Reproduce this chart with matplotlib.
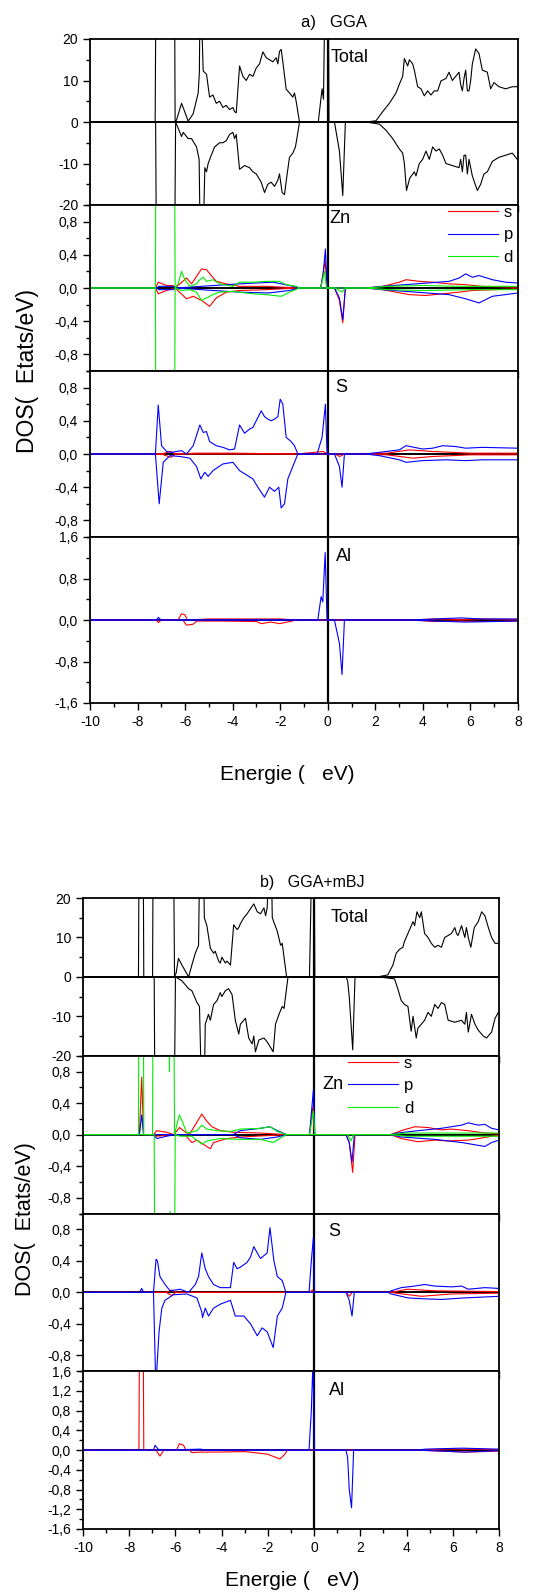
import matplotlib
matplotlib.use("Agg")
import matplotlib.pyplot as plt
from matplotlib.ticker import MultipleLocator, FuncFormatter

plt.rcParams['font.family'] = ['Liberation Sans', 'DejaVu Sans']
plt.rcParams['axes.unicode_minus'] = False

# ---------------- a) GGA ----------------
# total DOS, (energy eV, states/eV); values beyond the axes are clipped spikes
tot_a_up = [(-10, 0), (-7.26, 0), (-7.22, 40), (-6.45, 40), (-6.42, 0), (-6.36, 0.5), (-6.15, 4.5), (-6.05, 3),
            (-5.87, 0.2), (-5.66, 2), (-5.45, 7), (-5.40, 12), (-5.36, 40), (-5.28, 20), (-5.24, 12.3), (-5.10, 11.5),
            (-4.97, 6), (-4.83, 6.5), (-4.69, 4.5), (-4.55, 5), (-4.41, 3.5), (-4.27, 4), (-4.13, 3), (-3.99, 3.5),
            (-3.92, 2.5), (-3.85, 2.2), (-3.71, 13.5), (-3.57, 11), (-3.43, 10), (-3.29, 11.5), (-3.15, 11),
            (-3.01, 13), (-2.87, 14), (-2.73, 16.9), (-2.59, 15.5), (-2.45, 15), (-2.31, 14.5), (-2.17, 15.5),
            (-2.10, 14), (-2.03, 17), (-1.96, 17.5), (-1.89, 14.5), (-1.75, 7.9), (-1.61, 7), (-1.47, 6), (-1.40, 7),
            (-1.33, 5), (-1.19, 0), (-0.40, 0), (-0.24, 8), (-0.18, 5.5), (-0.10, 40), (0.02, 40), (0.05, 0),
            (1.61, 0), (2.03, 0.3), (2.31, 2.5), (2.59, 4.5), (2.87, 7), (3.01, 9.1), (3.15, 11), (3.22, 15.3),
            (3.36, 13.5), (3.43, 15), (3.57, 14), (3.64, 12.5), (3.78, 8.5), (3.92, 8), (4.06, 6.3), (4.20, 7.5),
            (4.34, 6.5), (4.48, 7.5), (4.62, 7.5), (4.76, 9.9), (4.97, 10.5), (5.10, 12), (5.24, 10), (5.38, 11),
            (5.52, 12), (5.59, 9), (5.66, 7.5), (5.73, 10.5), (5.80, 12.5), (5.87, 7.5), (5.94, 7.5), (6.01, 10),
            (6.08, 14), (6.22, 17.6), (6.36, 16.5), (6.50, 12.5), (6.71, 12), (6.85, 8), (6.99, 9.5), (7.20, 8.5),
            (7.48, 8), (7.76, 8.5), (8, 8.5)]
tot_a_dn = [(-10, 0), (-7.24, 0), (-7.20, -40), (-6.45, -40), (-6.40, 0), (-6.15, -3.5), (-6.08, -2.5), (-5.87, -4),
            (-5.73, -4), (-5.52, -6), (-5.41, -9), (-5.34, -40), (-5.29, -40), (-5.17, -11), (-5.10, -12),
            (-5.03, -10), (-4.90, -8), (-4.76, -6), (-4.55, -5), (-4.41, -5), (-4.27, -4.5), (-4.13, -3),
            (-3.99, -2.5), (-3.92, -4), (-3.85, -3), (-3.71, -11.4), (-3.50, -10.5), (-3.29, -11), (-3.15, -12),
            (-3.01, -12.5), (-2.80, -14.5), (-2.66, -17), (-2.52, -15), (-2.38, -14.5), (-2.24, -15.5), (-2.10, -14),
            (-2.03, -12.5), (-1.92, -17), (-1.82, -17.5), (-1.72, -13), (-1.61, -8.5), (-1.47, -7.5), (-1.36, -6),
            (-1.30, -4), (-1.19, 0), (0.28, 0), (0.49, -7), (0.63, -17.7), (0.74, 0), (1.6, 0), (2.17, -0.5),
            (2.45, -2), (2.73, -4), (3.01, -6.5), (3.15, -7.5), (3.22, -10), (3.31, -16.5), (3.45, -13.5), (3.64, -12),
            (3.71, -13), (3.85, -10), (3.99, -9), (4.13, -7), (4.27, -9), (4.41, -6), (4.55, -7), (4.69, -6.5),
            (4.83, -8), (4.97, -10), (5.24, -10.5), (5.52, -11), (5.59, -9), (5.66, -12), (5.73, -8), (5.80, -8),
            (5.87, -12.5), (5.94, -9), (6.08, -13), (6.29, -16.5), (6.43, -15), (6.57, -12.5), (6.71, -12),
            (6.92, -9.5), (7.06, -9), (7.20, -8.5), (7.48, -8), (7.76, -7.5), (7.97, -9), (8, -9)]

zn_a_s_up = [(-10, 0), (-7.25, 0), (-7.13, 0.07), (-6.78, 0.03), (-6.50, 0.03), (-6.42, 0), (-5.94, 0.12),
             (-5.73, 0.05), (-5.31, 0.23), (-5.10, 0.22), (-4.90, 0.15), (-4.69, 0.08), (-4.27, 0.05), (-3.71, 0.02),
             (-2.59, 0.02), (-1.19, 0), (-0.3, 0), (-0.11, 0.33), (-0.03, 0), (1.6, 0), (2.31, 0.02), (3.01, 0.07),
             (3.29, 0.1), (3.85, 0.08), (4.41, 0.07), (5.10, 0.05), (5.80, 0.04), (6.50, 0.02), (8, 0.01)]
zn_a_s_dn = [(-10, 0), (-7.25, 0), (-7.13, -0.07), (-6.78, -0.03), (-6.42, 0), (-5.94, -0.13), (-5.66, -0.1),
             (-5.31, -0.15), (-4.97, -0.22), (-4.69, -0.12), (-4.27, -0.05), (-3.71, -0.03), (-2.59, -0.02),
             (-1.19, 0), (0.28, 0), (0.49, -0.15), (0.63, -0.42), (0.74, 0), (1.6, 0), (2.31, -0.02), (3.43, -0.08),
             (4.13, -0.09), (4.83, -0.07), (5.52, -0.05), (6.08, -0.03), (8, -0.01)]
zn_a_p_up = [(-10, 0), (-7.2, 0), (-7.1, 0.02), (-6.5, 0.02), (-6.4, 0), (-3.71, 0.05), (-3.0, 0.06), (-2.3, 0.07),
             (-1.61, 0.03), (-1.19, 0), (-0.3, 0), (-0.2, 0.15), (-0.10, 0.47), (-0.03, 0), (1.6, 0), (2.31, 0.02),
             (3.71, 0.05), (5.10, 0.08), (5.52, 0.12), (5.80, 0.17), (6.08, 0.13), (6.36, 0.15), (6.92, 0.1),
             (7.48, 0.07), (8, 0.06)]
zn_a_p_dn = [(-10, 0), (-7.2, 0), (-7.1, -0.02), (-6.5, -0.02), (-6.4, 0), (-3.71, -0.05), (-2.5, -0.06),
             (-1.61, -0.03), (-1.19, 0), (0.28, 0), (0.49, -0.12), (0.63, -0.38), (0.74, 0), (1.6, 0), (2.31, -0.02),
             (3.71, -0.05), (5.10, -0.08), (5.80, -0.13), (6.36, -0.18), (6.92, -0.1), (8, -0.06)]
zn_a_d_up = [(-10, 0), (-7.25, 0), (-7.22, 3), (-6.46, 3), (-6.42, 0), (-6.29, 0.05), (-6.15, 0.2), (-6.01, 0.1),
             (-5.80, 0.02), (-5.52, 0.05), (-5.38, 0.1), (-5.24, 0.13), (-5.10, 0.08), (-4.83, 0.1), (-4.55, 0.05),
             (-3.99, 0.02), (-3.71, 0.07), (-3.15, 0.07), (-2.59, 0.08), (-2.03, 0.08), (-1.75, 0.04), (-1.33, 0.02),
             (-1.19, 0), (-0.3, 0), (-0.14, 0.2), (-0.05, 0), (1.6, 0), (2.5, 0.02), (4, 0.03), (5.5, 0.02),
             (7, 0.02), (8, 0.02)]
zn_a_d_dn = [(-10, 0), (-7.25, 0), (-7.22, -3), (-6.46, -3), (-6.42, 0), (-6.15, -0.03), (-5.80, -0.02),
             (-5.52, -0.05), (-5.31, -0.15), (-5.10, -0.12), (-4.83, -0.08), (-4.55, -0.05), (-3.99, -0.04),
             (-3.15, -0.07), (-2.59, -0.08), (-1.96, -0.1), (-1.61, -0.05), (-1.19, 0), (0.3, 0), (0.6, -0.05),
             (0.74, 0), (1.6, 0), (2.5, -0.02), (4, -0.03), (6, -0.02), (8, -0.02)]

s_a_s_up = [(-10, 0), (-7.0, 0), (-6.6, 0.03), (-6.4, 0), (-5.5, 0.01), (-4, 0.01), (-1.3, 0), (-0.2, 0.03),
            (0, 0), (2.5, 0.01), (3.43, 0.05), (4.41, 0.03), (6, 0.01), (8, 0.01)]
s_a_s_dn = [(-10, 0), (-7.0, 0), (-6.6, -0.04), (-6.4, 0), (-1.3, 0), (0.3, 0), (0.5, -0.03), (0.7, 0),
            (2.5, -0.01), (3.57, -0.05), (4.41, -0.03), (6, -0.01), (8, -0.01)]
s_a_p_up = [(-10, 0), (-7.25, 0), (-7.13, 0.59), (-6.99, 0.1), (-6.78, 0.03), (-6.57, 0.02), (-6.15, 0.04),
            (-5.94, 0), (-5.66, 0.1), (-5.38, 0.35), (-5.24, 0.26), (-5.10, 0.27), (-4.97, 0.15), (-4.69, 0.1),
            (-4.41, 0.08), (-4.13, 0.05), (-3.92, 0.06), (-3.71, 0.35), (-3.50, 0.25), (-3.29, 0.3), (-3.15, 0.32),
            (-3.01, 0.4), (-2.80, 0.52), (-2.66, 0.45), (-2.52, 0.42), (-2.38, 0.4), (-2.24, 0.42), (-2.10, 0.45),
            (-2.00, 0.66), (-1.89, 0.6), (-1.75, 0.2), (-1.54, 0.15), (-1.40, 0.1), (-1.26, 0), (-0.45, 0),
            (-0.24, 0.2), (-0.10, 0.6), (-0.03, 0), (1.6, 0), (2.17, 0.02), (3.01, 0.05), (3.29, 0.1), (3.99, 0.06),
            (4.41, 0.07), (4.83, 0.1), (5.38, 0.09), (5.80, 0.07), (6.50, 0.08), (8, 0.07)]
s_a_p_dn = [(-10, 0), (-7.25, 0), (-7.09, -0.6), (-6.92, -0.1), (-6.64, -0.02), (-6.22, -0.03), (-5.80, -0.05),
            (-5.52, -0.15), (-5.34, -0.3), (-5.17, -0.22), (-5.03, -0.27), (-4.83, -0.2), (-4.41, -0.12),
            (-3.99, -0.1), (-3.71, -0.2), (-3.43, -0.25), (-3.15, -0.3), (-2.94, -0.4), (-2.66, -0.52),
            (-2.45, -0.4), (-2.24, -0.45), (-2.06, -0.4), (-1.96, -0.65), (-1.82, -0.6), (-1.68, -0.3),
            (-1.47, -0.15), (-1.26, 0), (0.28, 0), (0.49, -0.15), (0.60, -0.4), (0.70, 0), (1.6, 0), (2.17, -0.02),
            (3.01, -0.07), (3.29, -0.1), (3.99, -0.08), (4.97, -0.07), (5.80, -0.08), (6.50, -0.07), (8, -0.07)]

al_a_s_up = [(-10, 0), (-6.3, 0), (-6.15, 0.12), (-6.01, 0.1), (-5.9, 0), (-5.0, 0.02), (-4.0, 0.02),
             (-3, 0.02), (-2, 0.02), (-1.3, 0), (3.5, 0), (4.5, 0.02), (5.5, 0.01), (6.5, 0.02), (8, 0.01)]
al_a_s_dn = [(-10, 0), (-7.2, 0), (-7.13, -0.05), (-7.0, 0), (-6.1, 0), (-5.94, -0.1), (-5.66, -0.08),
             (-5.5, -0.02), (-4.5, -0.02), (-3, -0.03), (-2.8, -0.07), (-2.4, -0.04), (-2.03, -0.07), (-1.6, -0.03),
             (-1.3, 0), (3.5, 0), (4.5, -0.03), (5.5, -0.02), (6.5, -0.03), (8, -0.02)]
al_a_p_up = [(-10, 0), (-7.2, 0), (-7.13, 0.05), (-7.0, 0), (-0.42, 0), (-0.28, 0.45), (-0.21, 0.35),
             (-0.11, 1.3), (-0.03, 0), (3.5, 0), (4.5, 0.02), (5.6, 0.04), (6.5, 0.02), (8, 0.02)]
al_a_p_dn = [(-10, 0), (0.28, 0), (0.42, -0.3), (0.49, -0.45), (0.60, -1.05), (0.70, 0), (3.5, 0),
             (4.5, -0.02), (5.8, -0.04), (8, -0.02)]

# ---------------- b) GGA+mBJ ----------------
tot_b_up = [(-10, 0), (-7.60, 0), (-7.57, 40), (-7.40, 40), (-7.37, 0), (-6.99, 0), (-6.96, 40), (-6.09, 40),
            (-6.04, 0), (-5.97, 1), (-5.87, 4.7), (-5.72, 3), (-5.43, 0), (-5.29, 3), (-5.14, 6), (-5.00, 8),
            (-4.93, 40), (-4.81, 40), (-4.75, 15), (-4.64, 13), (-4.49, 7.3), (-4.35, 6), (-4.28, 6.5), (-4.13, 4),
            (-4.06, 3.5), (-3.99, 5), (-3.84, 3.5), (-3.77, 4), (-3.62, 3), (-3.48, 13.2), (-3.33, 12), (-3.26, 12.5),
            (-3.19, 13.5), (-3.04, 15), (-2.90, 16), (-2.61, 18.5), (-2.46, 16.5), (-2.32, 16), (-2.17, 17.5),
            (-2.10, 15.5), (-2.03, 17.5), (-1.88, 40), (-1.81, 15), (-1.59, 11.5), (-1.45, 8), (-1.38, 8.5),
            (-1.19, 0), (-0.20, 0), (-0.07, 40), (0.0, 40), (0.03, 0), (2.75, 0), (3.19, 0.5), (3.41, 3), (3.55, 6),
            (3.70, 7), (3.84, 7.5), (3.91, 9), (4.06, 11), (4.28, 14), (4.35, 13), (4.45, 16.5), (4.57, 15),
            (4.64, 16.5), (4.78, 11), (4.93, 10), (5.07, 8.5), (5.22, 7.5), (5.36, 8), (5.51, 7.5), (5.65, 10),
            (5.80, 10.5), (5.94, 11), (6.09, 12.5), (6.16, 11), (6.23, 10.5), (6.38, 13), (6.52, 10), (6.59, 12.5),
            (6.67, 10), (6.78, 7.5), (6.93, 12.5), (7.10, 14), (7.25, 16.5), (7.39, 15.5), (7.54, 12.5), (7.68, 10),
            (7.83, 8.5), (8.0, 8.5)]
tot_b_dn = [(-10, 0), (-6.92, 0), (-6.88, -40), (-6.06, -40), (-6.00, 0), (-5.72, -1), (-5.43, -3), (-5.29, -3.5),
            (-5.07, -6.5), (-4.96, -7.5), (-4.83, -40), (-4.78, -40), (-4.71, -12), (-4.57, -9.5), (-4.49, -11),
            (-4.35, -7), (-4.20, -6), (-4.06, -4), (-3.99, -5), (-3.84, -3.5), (-3.70, -3), (-3.55, -4.5),
            (-3.41, -11), (-3.26, -14.5), (-3.19, -12), (-2.97, -10.5), (-2.83, -15.5), (-2.68, -17), (-2.61, -15),
            (-2.54, -19), (-2.39, -16), (-2.17, -15.5), (-2.03, -16.5), (-1.77, -19), (-1.67, -12), (-1.52, -9.5),
            (-1.38, -7.5), (-1.30, -8), (-1.13, 0), (1.38, 0), (1.45, -1), (1.52, -5), (1.67, -18.5), (1.77, 0),
            (2.75, 0), (3.48, -0.5), (3.62, -3), (3.77, -6), (3.91, -7), (4.06, -7.5), (4.20, -13.8), (4.28, -10),
            (4.42, -15.5), (4.49, -13), (4.64, -12), (4.78, -11), (4.93, -9), (5.07, -10), (5.22, -7), (5.36, -8),
            (5.51, -6.5), (5.65, -7), (5.80, -11), (6.09, -11.5), (6.38, -11), (6.52, -12), (6.59, -9), (6.67, -14),
            (6.81, -9.5), (6.96, -12), (7.10, -13.5), (7.32, -15), (7.46, -15.5), (7.68, -14), (7.83, -10.5),
            (7.97, -9), (8, -9)]

zn_b_s_up = [(-10, 0), (-7.56, 0), (-7.46, 0.73), (-7.38, 0), (-6.95, 0), (-6.81, 0.05), (-6.38, 0.03),
             (-6.06, 0), (-5.83, 0.09), (-5.65, 0.05), (-5.4, 0), (-4.86, 0.26), (-4.64, 0.17), (-4.42, 0.1),
             (-4.06, 0.05), (-3.48, 0.03), (-2.32, 0.02), (-1.19, 0), (-0.2, 0), (-0.05, 0.35), (0.02, 0), (3.3, 0),
             (3.77, 0.05), (4.35, 0.1), (4.93, 0.09), (5.51, 0.06), (5.94, 0.07), (6.67, 0.05), (7.39, 0.02),
             (8, 0.01)]
zn_b_s_dn = [(-10, 0), (-6.95, 0), (-6.81, -0.02), (-6.06, 0), (-5.6, 0), (-5.29, -0.1), (-5.07, -0.07),
             (-4.49, -0.18), (-4.35, -0.1), (-3.77, -0.05), (-3.19, -0.03), (-1.19, 0), (1.38, 0), (1.52, -0.1),
             (1.67, -0.48), (1.77, 0), (3.3, 0), (3.77, -0.05), (4.49, -0.09), (5.22, -0.07), (5.80, -0.08),
             (6.67, -0.07), (7.10, -0.05), (7.68, -0.02), (8, -0.01)]
zn_b_p_up = [(-10, 0), (-7.56, 0), (-7.46, 0.25), (-7.38, 0), (-3.5, 0), (-3.19, 0.05), (-2.32, 0.08),
             (-1.91, 0.1), (-1.59, 0.05), (-1.19, 0), (-0.2, 0), (-0.03, 0.57), (0.03, 0), (3.3, 0), (3.62, 0.02),
             (4.49, 0.05), (5.51, 0.08), (5.94, 0.1), (6.38, 0.12), (6.67, 0.15), (7.10, 0.12), (7.39, 0.13),
             (7.68, 0.08), (8, 0.06)]
zn_b_p_dn = [(-10, 0), (-6.95, 0), (-6.81, -0.05), (-6.38, -0.02), (-6.0, 0), (-3.5, 0), (-3.19, -0.04),
             (-2.32, -0.06), (-1.59, -0.03), (-1.19, 0), (1.38, 0), (1.52, -0.1), (1.64, -0.35), (1.74, 0), (3.3, 0),
             (3.77, -0.03), (5.22, -0.06), (6.38, -0.1), (7.39, -0.15), (7.68, -0.1), (8, -0.07)]
zn_b_d_up = [(-10, 0), (-7.60, 0), (-7.57, 3), (-7.40, 3), (-7.37, 0), (-6.99, 0), (-6.96, 3), (-6.30, 3),
             (-6.26, 0.8), (-6.23, 3), (-6.09, 3), (-6.04, 0), (-5.83, 0.25), (-5.68, 0.15), (-5.51, 0.02),
             (-5.07, 0.05), (-4.86, 0.12), (-4.64, 0.07), (-4.20, 0.05), (-3.62, 0.04), (-3.19, 0.07), (-2.32, 0.08),
             (-1.91, 0.1), (-1.59, 0.04), (-1.30, 0.01), (-1.19, 0), (-0.2, 0), (-0.03, 0.3), (0.03, 0), (3.3, 0),
             (4, 0.02), (6, 0.02), (8, 0.02)]
zn_b_d_dn = [(-10, 0), (-6.92, 0), (-6.88, -3), (-6.27, -3), (-6.23, -0.97), (-6.19, -3), (-6.06, -3),
             (-6.01, 0), (-5.80, -0.02), (-5.3, -0.02), (-4.86, -0.12), (-4.64, -0.08), (-4.06, -0.05),
             (-3.19, -0.06), (-2.32, -0.06), (-1.77, -0.1), (-1.38, -0.03), (-1.19, 0), (1.45, 0), (1.59, -0.08),
             (1.71, 0), (3.3, 0), (4, -0.02), (6, -0.02), (8, -0.02)]

s_b_s_up = [(-10, 0), (-6.4, 0), (-6.16, 0.03), (-6.0, 0), (-0.2, 0), (-0.07, 0.03), (0, 0), (3.3, 0),
            (4.06, 0.04), (5.22, 0.02), (8, 0.01)]
s_b_s_dn = [(-10, 0), (-6.4, 0), (-6.16, -0.04), (-6.0, 0), (1.4, 0), (1.52, -0.05), (1.65, 0), (3.3, 0),
            (4.64, -0.05), (5.94, -0.02), (8, -0.01)]
s_b_p_up = [(-10, 0), (-7.56, 0), (-7.46, 0.05), (-7.38, 0), (-6.95, 0), (-6.84, 0.42), (-6.78, 0.4),
            (-6.67, 0.2), (-6.45, 0.1), (-6.23, 0.02), (-5.80, 0.04), (-5.43, 0), (-5.14, 0.1), (-5.00, 0.2),
            (-4.86, 0.5), (-4.71, 0.3), (-4.57, 0.2), (-4.35, 0.1), (-4.06, 0.06), (-3.62, 0.06), (-3.48, 0.38),
            (-3.33, 0.3), (-3.19, 0.32), (-2.90, 0.38), (-2.75, 0.45), (-2.61, 0.58), (-2.46, 0.5), (-2.32, 0.43),
            (-2.03, 0.5), (-1.91, 0.82), (-1.74, 0.4), (-1.59, 0.2), (-1.38, 0.15), (-1.22, 0), (-0.22, 0),
            (-0.12, 0.4), (-0.03, 0.7), (0.02, 0), (3.2, 0), (3.33, 0.02), (3.77, 0.06), (4.35, 0.08), (4.78, 0.1),
            (5.22, 0.08), (5.94, 0.07), (6.38, 0.08), (6.67, 0.04), (7.39, 0.06), (8, 0.05)]
s_b_p_dn = [(-10, 0), (-6.95, 0), (-6.85, -1.2), (-6.71, -0.5), (-6.59, -0.2), (-6.45, -0.1), (-6.09, -0.03),
            (-5.51, -0.02), (-5.07, -0.07), (-4.86, -0.25), (-4.83, -0.32), (-4.71, -0.2), (-4.57, -0.3),
            (-4.35, -0.2), (-4.06, -0.15), (-3.62, -0.1), (-3.41, -0.3), (-3.04, -0.3), (-2.75, -0.4),
            (-2.46, -0.55), (-2.25, -0.45), (-2.03, -0.5), (-1.77, -0.7), (-1.59, -0.3), (-1.38, -0.2), (-1.22, 0),
            (1.38, 0), (1.52, -0.1), (1.64, -0.3), (1.74, 0), (3.2, 0), (3.33, -0.02), (4.06, -0.07), (4.64, -0.08),
            (5.51, -0.09), (6.52, -0.07), (7.25, -0.06), (8, -0.05)]

al_b_s_up = [(-10, 0), (-7.58, 0), (-7.55, 3), (-7.40, 3), (-7.37, 0), (-5.95, 0), (-5.83, 0.13), (-5.65, 0.1),
             (-5.55, 0), (4.5, 0), (5.5, 0.02), (6.5, 0.02), (8, 0.01)]
al_b_s_dn = [(-10, 0), (-6.85, 0), (-6.67, -0.12), (-6.5, 0), (-5.4, 0), (-5.29, -0.05), (-4.9, -0.04),
             (-4.35, -0.04), (-3, -0.03), (-2.03, -0.08), (-1.48, -0.18), (-1.3, -0.1), (-1.15, 0), (4.5, 0),
             (5.5, -0.02), (6.6, -0.04), (8, -0.02)]
al_b_p_up = [(-10, 0), (-6.95, 0), (-6.88, 0.1), (-6.75, 0.02), (-6.6, 0), (-4.9, 0.02), (-4.7, 0), (-0.22, 0),
             (-0.12, 0.8), (-0.05, 1.8), (0.02, 0), (4.5, 0), (4.8, 0.02), (6.4, 0.04), (8, 0.02)]
al_b_p_dn = [(-10, 0), (1.38, 0), (1.45, -0.15), (1.52, -0.8), (1.62, -1.17), (1.71, 0), (4.5, 0), (6.5, -0.04),
             (8, -0.01)]

orb_colors = {'s': '#ff0000', 'p': '#0000ff', 'd': '#00ee00'}


def comma(v, pos):
    s = '%.1f' % v
    if s == '-0.0':
        s = '0.0'
    return s.replace('.', ',')


def xy(pts):
    return [p[0] for p in pts], [p[1] for p in pts]


def style(ax, ylim, major, minor, fmt):
    ax.set_xlim(-10, 8)
    ax.set_ylim(*ylim)
    ax.xaxis.set_major_locator(MultipleLocator(2))
    ax.xaxis.set_minor_locator(MultipleLocator(1))
    ax.yaxis.set_major_locator(MultipleLocator(major))
    ax.yaxis.set_minor_locator(MultipleLocator(minor))
    ax.yaxis.set_major_formatter(FuncFormatter(fmt))
    ax.tick_params(which='major', direction='out', length=5, width=1, labelsize=10)
    ax.tick_params(which='minor', direction='out', length=3, width=1)
    for sp in ax.spines.values():
        sp.set_linewidth(1.3)
    ax.axhline(0, color='k', lw=1.4, zorder=1)
    ax.axvline(0, color='k', lw=1.6, zorder=1)


def draw_group(axes, tot, atoms, names, name_pos, al_major, al_minor):
    ax = axes[0]
    for curve in tot:
        ax.plot(*xy(curve), color='k', lw=0.8, zorder=2)
    style(ax, (-20, 20), 10, 5, lambda v, p: '%d' % v)
    ax.text(name_pos[0][0], name_pos[0][1], 'Total', fontsize=13, va='center')
    for i, orbs in enumerate(atoms):
        ax = axes[i + 1]
        for orb, up, dn in orbs:
            ax.plot(*xy(up), color=orb_colors[orb], lw=0.8, zorder=2, label=orb)
            ax.plot(*xy(dn), color=orb_colors[orb], lw=0.8, zorder=2)
        if i < 2:
            style(ax, (-1.0, 1.0), 0.4, 0.2, comma)
            ax.set_yticks([-0.8, -0.4, 0, 0.4, 0.8])
        else:
            style(ax, (-1.6, 1.6), al_major, al_minor, comma)
        ax.text(name_pos[i + 1][0], name_pos[i + 1][1], names[i], fontsize=13, va='center')
    for a in axes[:-1]:
        a.tick_params(labelbottom=False)


fig = plt.figure(figsize=(5.54, 15.93), dpi=100)

# group a) axes
ph = 166 / 1593
axes_a = []
for k in range(4):
    top = 39 + 166 * k
    axes_a.append(fig.add_axes([90 / 554, 1 - top / 1593 - ph, 428 / 554, ph]))
draw_group(axes_a, [tot_a_up, tot_a_dn],
           [[('s', zn_a_s_up, zn_a_s_dn), ('p', zn_a_p_up, zn_a_p_dn), ('d', zn_a_d_up, zn_a_d_dn)],
            [('s', s_a_s_up, s_a_s_dn), ('p', s_a_p_up, s_a_p_dn)],
            [('s', al_a_s_up, al_a_s_dn), ('p', al_a_p_up, al_a_p_dn)]],
           ['Zn', 'S', 'Al'], [(0.12, 15.6), (0.08, 0.84), (0.3, 0.8), (0.35, 1.22)], 0.8, 0.4)
axes_a[1].legend(loc='upper left', bbox_to_anchor=(0.836, 1.0), frameon=False, fontsize=12,
                 handlelength=3.0, handletextpad=0.35, labelspacing=0.45, borderpad=0, borderaxespad=0)

# group b) axes
ph = 157.75 / 1593
axes_b = []
for k in range(4):
    top = 898 + 157.75 * k
    axes_b.append(fig.add_axes([83 / 554, 1 - top / 1593 - ph, 416 / 554, ph]))
draw_group(axes_b, [tot_b_up, tot_b_dn],
           [[('s', zn_b_s_up, zn_b_s_dn), ('p', zn_b_p_up, zn_b_p_dn), ('d', zn_b_d_up, zn_b_d_dn)],
            [('s', s_b_s_up, s_b_s_dn), ('p', s_b_p_up, s_b_p_dn)],
            [('s', al_b_s_up, al_b_s_dn), ('p', al_b_p_up, al_b_p_dn)]],
           ['Zn', 'S', 'Al'], [(0.7, 15.1), (0.35, 0.63), (0.6, 0.77), (0.65, 1.21)], 0.4, 0.2)
axes_b[1].legend(loc='upper left', bbox_to_anchor=(0.637, 1.0), frameon=False, fontsize=12,
                 handlelength=3.0, handletextpad=0.35, labelspacing=0.45, borderpad=0, borderaxespad=0)

fig.text(334 / 554, 1 - 23 / 1593, 'a)   GGA', fontsize=12, ha='center', va='center')
fig.text(312 / 554, 1 - 883 / 1593, 'b)   GGA+mBJ', fontsize=11.5, ha='center', va='center')
fig.text(28 / 554, 1 - 371 / 1593, 'DOS(  Etats/eV)', fontsize=16.5, rotation=90, ha='center', va='center')
fig.text(26 / 554, 1 - 1219 / 1593, 'DOS(  Etats/eV)', fontsize=15.5, rotation=90, ha='center', va='center')
fig.text(287 / 554, 1 - 775 / 1593, 'Energie (   eV)', fontsize=15, ha='center', va='center')
fig.text(292 / 554, 1 - 1580 / 1593, 'Energie (   eV)', fontsize=15, ha='center', va='center')

fig.savefig('out.png', dpi=100)
